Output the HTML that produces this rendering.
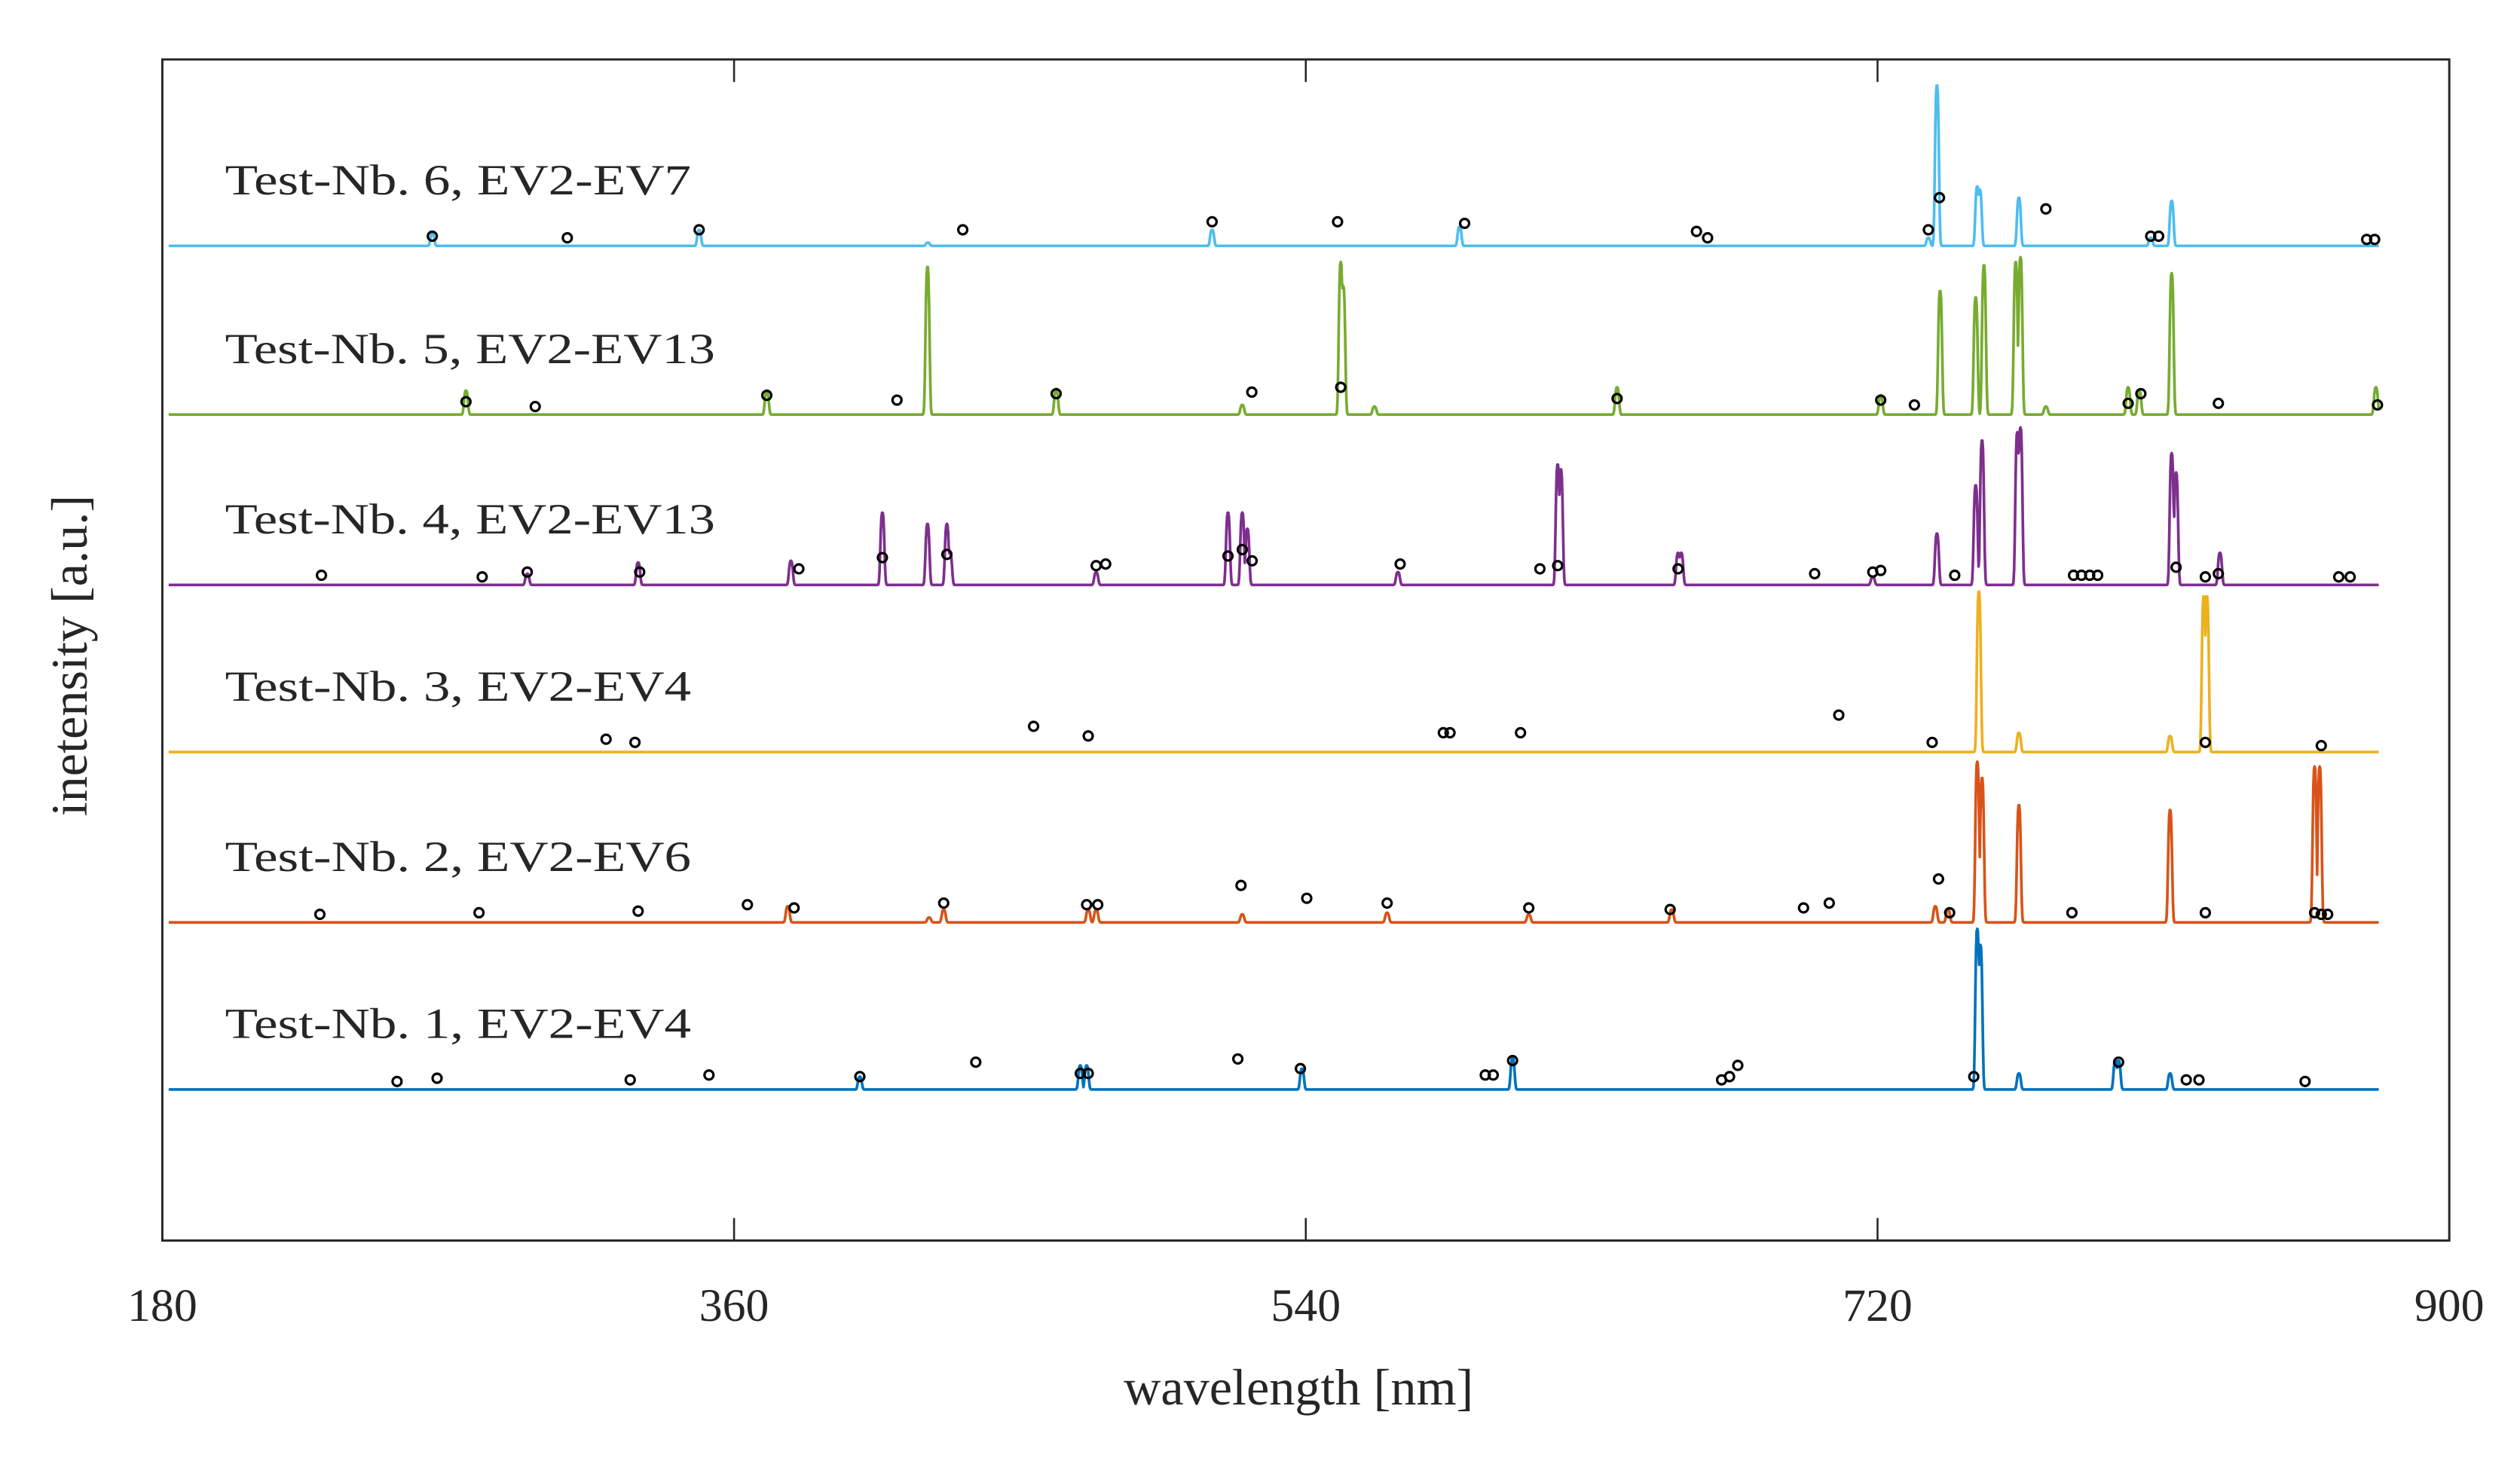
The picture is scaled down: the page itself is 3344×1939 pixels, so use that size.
<!DOCTYPE html>
<html><head><meta charset="utf-8"><style>
html,body{margin:0;padding:0;background:#fff;}
svg{display:block;}
text{font-family:"Liberation Serif",serif;fill:#262626;}
</style></head><body>
<svg id="chart" width="3344" height="1939" viewBox="0 0 1568 909.2" xmlns="http://www.w3.org/2000/svg">
<rect x="0" y="0" width="1568" height="910" fill="#fff"/>
<g id="series"></g>
<rect x="101" y="37" width="1423" height="735" fill="none" stroke="#262626" stroke-width="1.4"/>
<g id="ticks"></g>
<text x="808" y="874" font-size="32" text-anchor="middle">wavelength [nm]</text>
<text transform="translate(54,408) rotate(-90)" font-size="32" text-anchor="middle">inetensity [a.u.]</text>
</svg>
<script>
const xTicks = [180, 360, 540, 720, 900];
const seriesNames = ["Test-Nb. 1, EV2-EV4","Test-Nb. 2, EV2-EV6","Test-Nb. 3, EV2-EV4","Test-Nb. 4, EV2-EV13","Test-Nb. 5, EV2-EV13","Test-Nb. 6, EV2-EV7"];
const seriesColors = ["#0072BD","#D95319","#EDB120","#7E2F8E","#77AC30","#4DBEEE"];
// peaks: [wavelength nm, height a.u.]
const peaks1 = [[399.6,8],[469,15],[471,15],[538.8,13],[605.1,20],[751.4,100],[752.4,90],[764.5,10],[794.9,18],[795.9,18],[812.1,10]];
const peaks2 = [[376.9,10],[421.4,3],[426,8],[471.5,8],[474,8],[520,5],[565.6,6],[610.2,5],[655.2,8],[738.2,10],[742.2,8],[751.4,100],[752.9,90],[764.5,73],[812.1,70],[857.6,97],[859.2,97]];
const peaks3 = [[751.9,100],[764.5,12],[812.1,10],[822.7,97],[823.7,97]];
const peaks4 = [[294.9,7],[329.8,14],[377.9,15],[406.7,45],[420.9,38],[427,38],[428,20],[474,8],[515.5,45],[520,45],[521.6,35],[569,8],[619.3,75],[620.3,72],[657.2,20],[658.2,20],[718.5,5],[738.7,32],[750.9,62],[752.9,90],[764,95],[765,98],[812.6,82],[814,70],[827.8,20]];
const peaks5 = [[275.6,15],[370.3,15],[420.9,92],[461.4,16],[520,6],[551,95],[551.8,80],[561.6,5],[638,17],[721,12],[739.7,77],[750.9,73],[753.5,93],[763.5,95],[765,98],[773,5],[798.9,17],[802.4,15],[812.6,88],[876.9,17]];
const peaks6 = [[265,8],[349,10],[421,2],[510.5,10],[588.4,12],[736,5],[738.7,100],[751.4,37],[752.2,35],[764.5,30],[806,5],[812.6,28]];
// detected markers: [wavelength nm, height a.u.]
const marks1 = [[253.9,5],[266.5,7],[327.3,6],[352.1,9],[399.6,8],[436.1,17],[469,10],[471.5,10],[518.6,19],[538.3,13],[596.5,9],[599,9],[605.1,18],[670.9,6],[673.4,8],[676,15],[750.3,8],[795.9,17],[817.2,6],[821.2,6],[854.6,5]];
const marks2 = [[229.6,5],[279.7,6],[329.8,7],[364.2,11],[378.9,9],[426,12],[471,11],[474.5,11],[519.6,23],[540.3,15],[565.6,12],[610.2,9],[654.7,8],[696.7,9],[704.8,12],[739.2,27],[742.7,6],[781.2,6],[823.2,6],[857.6,6],[859.7,5],[861.7,5]];
const marks3 = [[319.7,8],[328.8,6],[454.3,16],[471.5,10],[583.3,12],[585.4,12],[607.6,12],[707.8,23],[737.2,6],[823.2,6],[859.7,4]];
const marks4 = [[230.1,6],[280.7,5],[294.9,8],[330.3,8],[380.4,10],[406.7,17],[427,19],[474,12],[477,13],[515.5,18],[520,22],[523.1,15],[569.7,13],[613.7,10],[619.3,12],[657.2,10],[700.2,7],[718.5,8],[721,9],[744.3,6],[781.7,6],[784.2,6],[786.8,6],[789.3,6],[814,11],[823.2,5],[827.3,7],[865.2,5],[868.8,5]];
const marks5 = [[275.6,8],[297.4,5],[370.3,12],[411.3,9],[461.4,13],[523,14],[551,17],[638,10],[721,9],[731.6,6],[798.9,7],[802.9,13],[827.3,7],[877.4,6]];
const marks6 = [[265,6],[307.5,5],[349,10],[432,10],[510.5,15],[550,15],[590,14],[663,9],[666.5,5],[736,10],[739.5,30],[773,23],[806,6],[808.5,6],[874,4],[876.5,4]];

const allPeaks=[peaks1,peaks2,peaks3,peaks4,peaks5,peaks6];
const allMarks=[marks1,marks2,marks3,marks4,marks5,marks6];
const NS="http://www.w3.org/2000/svg";
const X0=101,X1=1524,Y0=37,Y1=772,XMIN=180,XMAX=900;
function xs(v){return X0+(v-XMIN)/(XMAX-XMIN)*(X1-X0);}
const baseY=[678,574,468,364,258,153];
function ys(i,v){return baseY[i]-v;}
const g=document.getElementById('series');
for(let i=0;i<6;i++){
  const grp=document.createElementNS(NS,'g');
  
  
  g.appendChild(grp);
  let pts=[];
  for(let w=182;w<=878;w+=0.2){
    let v=0;
    for(const p of allPeaks[i]){const d=(w-p[0])/0.6;if(Math.abs(d)<6)v=Math.max(v,p[1]*Math.exp(-Math.pow(Math.abs(d),3)/2));}
    pts.push(xs(w).toFixed(2)+','+ys(i,v).toFixed(2));
  }
  const pl=document.createElementNS(NS,'polyline');
  
  
  pl.setAttribute('points',pts.join(' '));
  pl.setAttribute('fill','none');
  pl.setAttribute('stroke',seriesColors[i]);
  pl.setAttribute('stroke-width','1.7');
  pl.setAttribute('stroke-linejoin','round');
  grp.appendChild(pl);
  for(const m of allMarks[i]){
    const c=document.createElementNS(NS,'circle');
    
    
    c.setAttribute('cx',xs(m[0]));c.setAttribute('cy',ys(i,m[1]));
    c.setAttribute('r','2.8');c.setAttribute('fill','none');
    c.setAttribute('stroke','#000');c.setAttribute('stroke-width','1.5');
    grp.appendChild(c);
  }
  const t=document.createElementNS(NS,'text');
  
  
  t.setAttribute('x','140');t.setAttribute('y',baseY[i]-32);
  t.setAttribute('font-size','27');t.setAttribute('fill','#000');
  t.setAttribute('textLength', i>=3 && i<=4 ? '305' : '290');
  t.setAttribute('lengthAdjust','spacingAndGlyphs');
  t.textContent=seriesNames[i];
  grp.appendChild(t);
}
const tg=document.getElementById('ticks');
for(const tv of xTicks){
  const x=xs(tv);
  if(tv>XMIN&&tv<XMAX){
    for(const [a,b] of [[Y1,Y1-14],[Y0,Y0+14]]){
      const l=document.createElementNS(NS,'line');
      
      
      l.setAttribute('x1',x);l.setAttribute('x2',x);l.setAttribute('y1',a);l.setAttribute('y2',b);
      l.setAttribute('stroke','#262626');l.setAttribute('stroke-width','1.2');
      tg.appendChild(l);
    }
  }
  const t=document.createElementNS(NS,'text');
  
  
  t.setAttribute('x',x);t.setAttribute('y','822');
  t.setAttribute('font-size','29');t.setAttribute('text-anchor','middle');
  t.textContent=tv;
  tg.appendChild(t);
}
</script>
</body></html>
